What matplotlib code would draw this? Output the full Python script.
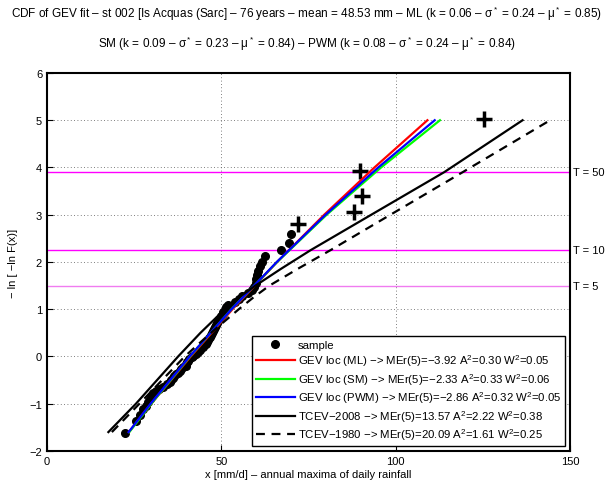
import matplotlib
matplotlib.use('Agg')
import matplotlib.pyplot as plt

plt.rcParams['font.family'] = ['Liberation Sans', 'DejaVu Sans']
plt.rcParams['mathtext.fontset'] = 'custom'
plt.rcParams['mathtext.rm'] = 'Liberation Sans'
plt.rcParams['mathtext.it'] = 'Liberation Sans:italic'

# sample (sorted annual maxima) and reduced variate - ln(-ln F)
sample_x = [22.3, 25.5, 26.8, 27.6, 28.4, 29.0, 29.6, 30.0, 30.5, 31.2,
            32.0, 33.4, 34.5, 35.2, 35.6, 36.0, 36.4, 37.0, 37.6, 38.0,
            38.4, 39.0, 39.8, 40.0, 40.2, 40.4, 40.8, 41.6, 42.0, 42.8,
            43.4, 43.8, 44.0, 44.6, 45.0, 45.6, 46.0, 46.3, 46.6, 46.8,
            47.0, 47.4, 47.6, 48.0, 48.2, 48.5, 48.8, 49.0, 49.4, 50.0,
            50.4, 50.6, 51.0, 51.4, 51.8, 54.0, 55.0, 56.0, 57.5, 58.8,
            59.4, 59.8, 60.0, 60.2, 60.5, 61.0, 61.6, 62.4, 67.0, 69.4,
            70.0]
sample_y = [-1.61, -1.37, -1.23, -1.12, -1.04, -0.97, -0.90, -0.84, -0.78, -0.73,
            -0.68, -0.64, -0.59, -0.55, -0.50, -0.46, -0.42, -0.38, -0.35, -0.31,
            -0.27, -0.23, -0.20, -0.16, -0.12, -0.09, -0.05, -0.02, 0.02, 0.06,
            0.09, 0.13, 0.16, 0.20, 0.24, 0.27, 0.31, 0.35, 0.39, 0.42,
            0.46, 0.50, 0.54, 0.58, 0.63, 0.67, 0.71, 0.76, 0.80, 0.85,
            0.89, 0.94, 0.99, 1.05, 1.10, 1.16, 1.22, 1.28, 1.34, 1.41,
            1.48, 1.55, 1.63, 1.72, 1.81, 1.91, 2.01, 2.13, 2.26, 2.41,
            2.59]
# largest values, drawn as crosses
top_x = [72.0, 88.0, 90.4, 89.8, 125.4]
top_y = [2.80, 3.05, 3.40, 3.92, 5.02]

# fitted curves
gev_y = [-1.6, -1.0, 0.0, 1.0, 2.0, 3.0, 4.0, 5.0]
gev_ml_x = [23.5, 29.9, 41.2, 53.2, 66.0, 79.5, 93.9, 109.1]
gev_sm_x = [23.6, 29.9, 41.0, 52.9, 66.0, 80.2, 95.8, 112.7]
gev_pwm_x = [23.4, 29.7, 40.9, 52.9, 65.9, 79.9, 95.0, 111.2]

tcev_y = [-1.6, -1.0, 0.0, 0.5, 1.0, 1.25, 1.5, 1.85, 2.25, 3.0, 3.9, 5.0]
tcev08_x = [17.6, 25.5, 37.6, 44.0, 51.0, 55.0, 59.8, 67.0, 75.6, 93.0, 113.9, 136.4]
tcev80_x = [18.6, 26.5, 39.5, 47.0, 55.0, 59.2, 63.8, 71.8, 81.3, 98.5, 119.2, 144.3]

# return period lines
T_labels = ['T = 50', 'T = 10', 'T = 5']
T_values = [3.902, 2.250, 1.500]
T_colors = ['#ff00ff', '#ff00ff', '#f07cf0']

labels = ['sample',
          'GEV loc (ML) −> MEr(5)=−3.92 A$^2$=0.30 W$^2$=0.05',
          'GEV loc (SM) −> MEr(5)=−2.33 A$^2$=0.33 W$^2$=0.06',
          'GEV loc (PWM) −> MEr(5)=−2.86 A$^2$=0.32 W$^2$=0.05',
          'TCEV−2008 −> MEr(5)=13.57 A$^2$=2.22 W$^2$=0.38',
          'TCEV−1980 −> MEr(5)=20.09 A$^2$=1.61 W$^2$=0.25']

fig = plt.figure(figsize=(6.06, 4.89), dpi=100)
ax = fig.add_axes([0.0776, 0.0757, 0.863, 0.773])

for tv, tc in zip(T_values, T_colors):
    ax.axhline(tv, color=tc, linewidth=1.0, zorder=1)

h_s, = ax.plot(sample_x, sample_y, 'o', color='black', markersize=5.5,
               linestyle='none', zorder=3)
ax.plot(top_x, top_y, '+', color='black', markersize=12, mew=2.5,
        linestyle='none', zorder=3)

h1, = ax.plot(gev_ml_x, gev_y, color='#ff0000', linewidth=1.6, zorder=4)
h2, = ax.plot(gev_sm_x, gev_y, color='#00ff00', linewidth=1.6, zorder=4)
h3, = ax.plot(gev_pwm_x, gev_y, color='#0000ff', linewidth=1.6, zorder=4)
h4, = ax.plot(tcev08_x, tcev_y, color='black', linewidth=1.6, zorder=4)
h5, = ax.plot(tcev80_x, tcev_y, color='black', linewidth=1.6,
              linestyle=(0, (4, 3)), zorder=4)

ax.set_xlim(0, 150)
ax.set_ylim(-2, 6)
ax.set_xticks([0, 50, 100, 150])
ax.set_yticks(range(-2, 7))
ax.grid(True, linestyle=(0, (1, 3)), color='#555555', linewidth=0.6)
ax.tick_params(direction='in', labelsize=8, length=4)
for sp in ax.spines.values():
    sp.set_linewidth(1.5)

# return period labels, right of the axes
for lab, tv in zip(T_labels, T_values):
    ax.text(151.0, tv, lab, fontsize=8, va='center', ha='left', clip_on=False)

ax.set_xlabel('x [mm/d] – annual maxima of daily rainfall', fontsize=8, labelpad=2)
ax.set_ylabel('− ln [ −ln F(x)]', fontsize=8, labelpad=8)

fig.text(0.506, 0.971,
         'CDF of GEV fit – st 002 [Is Acquas (Sarc] – 76 years – mean = 48.53 mm – '
         'ML (k = 0.06 – σ$^*$ = 0.24 – μ$^*$ = 0.85)',
         ha='center', va='center', fontsize=8.5)
fig.text(0.506, 0.911,
         'SM (k = 0.09 – σ$^*$ = 0.23 – μ$^*$ = 0.84) – PWM (k = 0.08 – σ$^*$ = 0.24 – μ$^*$ = 0.84)',
         ha='center', va='center', fontsize=8.5)

leg = ax.legend([h_s, h1, h2, h3, h4, h5], labels, loc='lower right',
                bbox_to_anchor=(0.99, 0.014), borderaxespad=0, fontsize=8.2,
                fancybox=False, edgecolor='black', framealpha=1,
                handlelength=3.4, labelspacing=0.24, borderpad=0.3,
                handletextpad=0.3)
leg.get_frame().set_linewidth(1.0)

fig.savefig('out.png', dpi=100)
